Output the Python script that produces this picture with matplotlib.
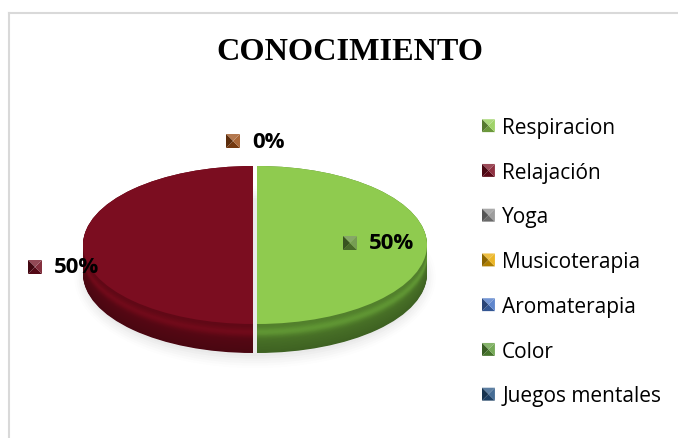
import matplotlib
matplotlib.use("Agg")
import matplotlib.pyplot as plt
import numpy as np
from matplotlib.patches import Patch, Ellipse, Polygon
from matplotlib.lines import Line2D
from matplotlib.legend_handler import HandlerBase

title = "CONOCIMIENTO"
categories = ["Respiracion", "Relajación", "Yoga", "Musicoterapia",
              "Aromaterapia", "Color", "Juegos mentales"]
values = [50, 50, 0, 0, 0, 0, 0]
top_colors = ["#8FCB4F", "#7B0D20", "#8C8C8C", "#E8A800", "#4472C4", "#5E9B3A", "#255382"]
side_colors = ["#4E7A2A", "#5C0815", "#6A6A6A", "#B07F00", "#33559A", "#3F6B26", "#1A3A5E"]
label_marker_colors = ["#5E8A36", "#6E0C1D", "#9A4B14"]

W, H = 678, 439
fig = plt.figure(figsize=(W / 100, H / 100), dpi=100)
fig.patch.set_facecolor("white")

def px(x0, y0, w, h):
    return [x0 / W, 1 - (y0 + h) / H, w / W, h / H]

def shade(c, f):
    rgb = np.array(matplotlib.colors.to_rgb(c))
    if f >= 1:
        rgb = rgb + (1 - rgb) * (f - 1)
    else:
        rgb = rgb * f
    return tuple(np.clip(rgb, 0, 1))

def bevel_polys(x0, y0, w, h, color, transform):
    cxm, cym = x0 + w / 2, y0 + h / 2
    pts = [(x0, y0), (x0 + w, y0), (x0 + w, y0 + h), (x0, y0 + h)]
    # bottom, right, top, left
    facs = [0.75, 1.15, 1.25, 0.6]
    polys = []
    for i in range(4):
        p = [pts[i], pts[(i + 1) % 4], (cxm, cym)]
        polys.append(Polygon(p, closed=True, facecolor=shade(color, facs[i]),
                             edgecolor="none", transform=transform))
    return polys

class BevelHandle:
    def __init__(self, color):
        self.color = color

class HandlerBevel(HandlerBase):
    def create_artists(self, legend, orig_handle, xdescent, ydescent, width, height, fontsize, trans):
        s = min(width, height)
        x0 = -xdescent + (width - s) / 2
        y0 = -ydescent + (height - s) / 2
        return bevel_polys(x0, y0, s, s, orig_handle.color, trans)

# chart border
fig.add_artist(Line2D([9 / W, 9 / W], [0, 1 - 14 / H], color="#D9D9D9", lw=1.5))
fig.add_artist(Line2D([9 / W, 1], [1 - 14 / H, 1 - 14 / H], color="#D9D9D9", lw=1.5))

# title
fig.text(350 / W, 1 - 53 / H, title, ha="center", va="center",
         fontsize=23.2, fontweight="bold", family="Liberation Serif")

# pie axes
ax_x0, ax_y0, ax_w, ax_h = 55, 140, 400, 240
cx, cy = 255, 246
rx, ry = 170, 79
thick = 29
ax = fig.add_axes(px(ax_x0, ax_y0, ax_w, ax_h))

t_units = thick / ry
explode = [2 / rx if v > 0 else 0 for v in values]

# shadow
for i, a in enumerate(np.linspace(0.06, 0.02, 6)):
    ax.add_patch(Ellipse((0, -t_units - 0.04), 2.0 + 0.025 * i, 2.0 + 0.06 * i,
                         facecolor="#A8A8A8", edgecolor="none", alpha=a, zorder=0))

# side layers
n_layers = 40
for k in range(n_layers):
    f = k / (n_layers - 1)  # 0 bottom -> 1 top
    yoff = -t_units * (1 - f)
    cols = []
    for c in side_colors:
        rgb = np.array(matplotlib.colors.to_rgb(c))
        sh = 0.8 + 0.25 * f + 0.25 * np.exp(-((f - 0.7) / 0.15) ** 2)
        cols.append(tuple(np.clip(rgb * sh, 0, 1)))
    ax.pie(values, colors=cols, startangle=90, counterclock=False,
           explode=explode, center=(0, yoff), radius=1,
           wedgeprops=dict(linewidth=0, edgecolor="none"), frame=True)

# top face
ax.pie(values, colors=top_colors, startangle=90, counterclock=False,
       explode=explode, center=(0, 0), radius=1,
       wedgeprops=dict(linewidth=0, edgecolor="none"), frame=True)
ax.set_aspect("auto")
ax.set_xlim(-(cx - ax_x0) / rx, (ax_x0 + ax_w - cx) / rx)
ax.set_ylim(-(ax_y0 + ax_h - cy) / ry, (cy - ax_y0) / ry)
ax.axis("off")

# data labels
total = sum(values)
pcts = ["{:.0f}%".format(100 * v / total) for v in values]
lab_pos = [(369, 244, 350), (54, 268, 35), (252, 142, 233)]
lab_vals = [pcts[0], pcts[1], pcts[2]]
for (tx, ty, mx), txt, mc in zip(lab_pos, lab_vals, label_marker_colors):
    fig.text(tx / W, 1 - ty / H, txt, ha="left", va="center",
             fontsize=16, fontweight="bold", family="Open Sans")
    s = 14
    for p in bevel_polys((mx - s / 2) / W, 1 - (ty + s / 2) / H, s / W, s / H, mc, fig.transFigure):
        fig.add_artist(p)

# legend
handles = [BevelHandle(c) for c in top_colors]
leg = fig.legend(handles, categories, loc="upper left",
                 bbox_to_anchor=(482 / W, 1 - 118 / H), frameon=False,
                 prop=dict(family="Open Sans", size=15),
                 handler_map={BevelHandle: HandlerBevel()},
                 handlelength=0.62, handleheight=0.62, handletextpad=0.35,
                 labelspacing=1.14, borderpad=0, borderaxespad=0)

fig.savefig("out.png", dpi=100)
